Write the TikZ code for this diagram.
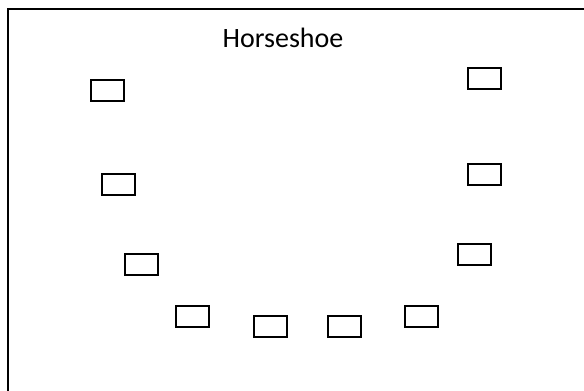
\documentclass[tikz,border=0pt]{standalone}
\usepackage{fontspec}
\setmainfont{Carlito}
\begin{document}
\begin{tikzpicture}[x=1pt,y=-1pt,
  seat/.style={draw=black,line width=2pt,rectangle,minimum width=33pt,minimum height=21pt,inner sep=0pt}]
\useasboundingbox (0,0) rectangle (584,391);
\clip (0,0) rectangle (584,391);
\fill[white] (0,0) rectangle (584,391);
\draw[line width=2pt] (8,9) rectangle (600,410);
\node[anchor=base,font=\fontsize{28}{30}\selectfont] (title) at (283,47) {Horseshoe};
\node[seat] (s1) at (107,90) {};
\node[seat] (s2) at (118.5,184) {};
\node[seat] (s3) at (141.5,264.5) {};
\node[seat] (s4) at (192,316) {};
\node[seat] (s5) at (270.5,326) {};
\node[seat] (s6) at (344,326) {};
\node[seat] (s7) at (421.5,316) {};
\node[seat] (s8) at (474.5,254.5) {};
\node[seat] (s9) at (484.5,174) {};
\node[seat] (s10) at (484.5,78) {};
\end{tikzpicture}
\end{document}
